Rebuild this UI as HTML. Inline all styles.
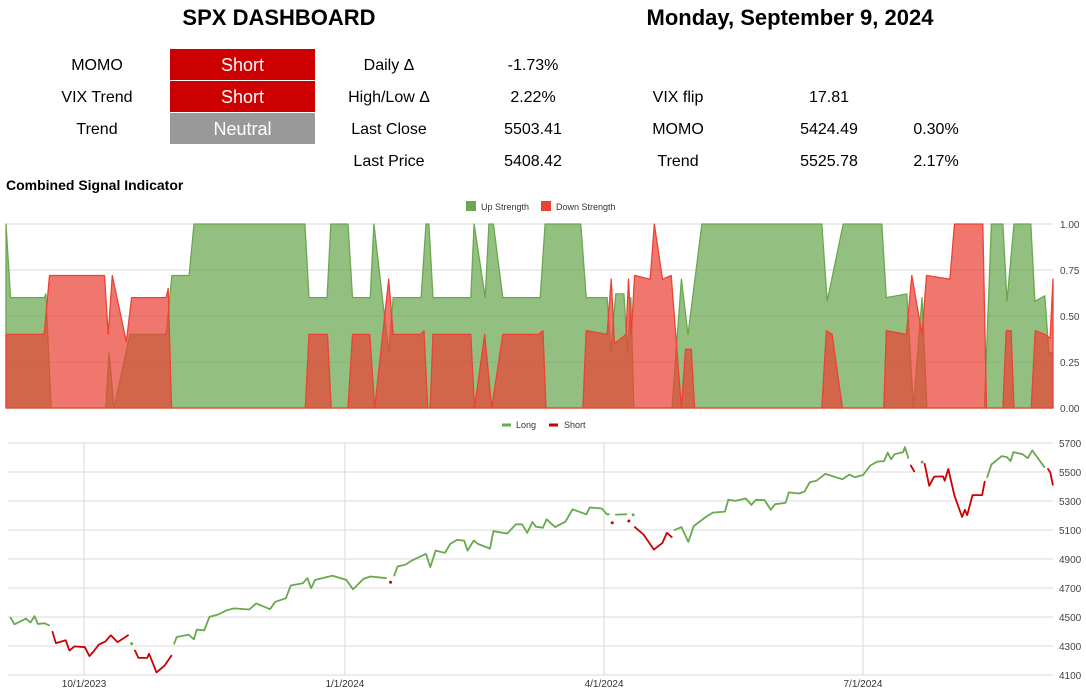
<!DOCTYPE html>
<html><head><meta charset="utf-8">
<style>
body{margin:0;width:1086px;height:693px;background:#fff;font-family:"Liberation Sans",Arial,sans-serif;position:relative;overflow:hidden}
.t{position:absolute;white-space:nowrap;color:#000}
.c{transform:translateX(-50%)}
.h{font-weight:bold;font-size:22px}
.r{font-size:16px}
.box{position:absolute;left:170px;width:145px;height:31px;color:#fff;font-size:18px;text-align:center;line-height:32px}
svg{position:absolute;left:0;top:0}
</style></head><body>
<div class="t h c" style="left:279px;top:5px">SPX DASHBOARD</div>
<div class="t h c" style="left:790px;top:5px">Monday, September 9, 2024</div>

<div class="t r c" style="left:97px;top:57px">MOMO</div>
<div class="t r c" style="left:97px;top:89px">VIX Trend</div>
<div class="t r c" style="left:97px;top:121px">Trend</div>
<div class="box" style="top:49px;background:#cc0000">Short</div>
<div class="box" style="top:81px;background:#cc0000">Short</div>
<div class="box" style="top:113px;background:#999999">Neutral</div>

<div class="t r c" style="left:389px;top:57px">Daily Δ</div>
<div class="t r c" style="left:389px;top:89px">High/Low Δ</div>
<div class="t r c" style="left:389px;top:121px">Last Close</div>
<div class="t r c" style="left:389px;top:153px">Last Price</div>
<div class="t r c" style="left:533px;top:57px">-1.73%</div>
<div class="t r c" style="left:533px;top:89px">2.22%</div>
<div class="t r c" style="left:533px;top:121px">5503.41</div>
<div class="t r c" style="left:533px;top:153px">5408.42</div>

<div class="t r c" style="left:678px;top:89px">VIX flip</div>
<div class="t r c" style="left:678px;top:121px">MOMO</div>
<div class="t r c" style="left:678px;top:153px">Trend</div>
<div class="t r c" style="left:829px;top:89px">17.81</div>
<div class="t r c" style="left:829px;top:121px">5424.49</div>
<div class="t r c" style="left:829px;top:153px">5525.78</div>
<div class="t r c" style="left:936px;top:121px">0.30%</div>
<div class="t r c" style="left:936px;top:153px">2.17%</div>

<div class="t" style="left:6px;top:177px;font-size:14px;font-weight:bold">Combined Signal Indicator</div>

<svg id="chart" width="1086" height="693"></svg>
<script>
// ---- Signal chart data (x = trading-session index 0..255) ----
const upX=[0,1.1,9.3,9.7,11.0,24.3,25.1,26.3,30.2,39.0,40.4,44.6,45.8,72.8,73.8,78.2,79.1,83.3,84.4,88.7,89.6,93.2,94.3,101.1,102.3,103.0,104.0,113.2,114.0,116.7,117.6,118.7,121.0,130.1,131.3,140.0,141.3,146.4,147.3,148.5,150.5,151.4,152.2,152.9,162.2,164.5,166.1,169.5,198.7,200.0,203.9,213.3,214.4,219.4,221.0,223.1,224.3,238.3,240.0,242.8,243.8,245.5,249.6,250.6,253.0,254.0,254.8,255];
const upV=[1,0.6,0.6,0.62,0,0,0.3,0,0.4,0.4,0.72,0.72,1,1,0.6,0.6,1,1,0.6,0.6,1,0.3,0.6,0.6,1,1,0.6,0.6,1,0.6,1,1,0.6,0.6,1,1,0.6,0.6,0.3,0.62,0.62,0.3,0.6,0,0,0.7,0.4,1,1,0.58,1,1,0.6,0.62,0,0.6,0,0,1,1,0.58,1,1,0.58,0.61,0.3,0.3,0];
const dnX=[0,9.3,10.6,24.0,24.9,25.9,29.3,30.6,39.0,39.5,40.3,72.9,73.8,78.3,79.2,83.3,84.4,88.6,89.8,93.2,94.3,101.0,101.8,102.7,103.3,104.0,113.2,114.1,116.6,118.3,121.0,129.7,130.8,131.5,140.5,141.3,146.4,147.4,148.2,151.0,151.6,152.3,153.1,156.9,157.9,159.9,162.0,164.5,165.5,166.9,167.7,198.7,199.8,201.2,203.7,213.8,214.4,219.3,220.6,223.1,224.2,229.9,231.0,237.9,238.8,242.8,243.6,244.8,245.5,249.7,250.7,253.0,254.3,255];
const dnV=[0.4,0.4,0.72,0.72,0.4,0.72,0.36,0.6,0.6,0.65,0,0,0.4,0.4,0,0,0.4,0.4,0,0.7,0.4,0.4,0.42,0,0,0.4,0.4,0,0.4,0,0.4,0.4,0.42,0,0,0.42,0.4,0.7,0.35,0.4,0.7,0.4,0.72,0.7,1,0.7,0.72,0,0.32,0.32,0,0,0.42,0.4,0,0,0.42,0.4,0.72,0.4,0.72,0.7,1,1,0,0,0.42,0.42,0,0,0.42,0.4,0.38,0.7];
const sigTicks=[0,0.25,0.5,0.75,1];
const sigTickLabels=["0.00","0.25","0.50","0.75","1.00"];
// ---- Price chart data (x = calendar days since 2023-09-04) ----
const priceSegs=[
 {s:"long",x:[0.9,2.3,6.4,8.0,9.4,10.6,12.9,14.6],y:[4496,4450,4489,4462,4506,4452,4457,4443]},
 {s:"short",x:[15.8,17.0,20.5,21.8,23.6,27.3,28.9,30.4,32.2,34.6,36.5,38.9,42.6],y:[4397,4320,4339,4269,4297,4292,4230,4262,4309,4332,4374,4327,4374]},
 {s:"long",x:[43.9],y:[4316]},
 {s:"short",x:[45.1,46.3,49.4,50.1,52.7,55.6,58.0],y:[4269,4218,4218,4246,4118,4165,4234]},
 {s:"long",x:[59.0,59.9,64.1,66.0,67.0,69.7,71.5,74.6,77.7,80.2,85.7,88.1,93.0,94.9,98.6,100.4,104.7,106.3,107.6,109.0,115.2,120.1,122.5,126.2,128.7,134.2],y:[4316,4362,4378,4346,4413,4408,4501,4517,4547,4559,4552,4594,4554,4605,4629,4717,4733,4768,4698,4756,4784,4756,4691,4763,4779,4768]},
 {s:"short",x:[135.8],y:[4740]},
 {s:"long",x:[137.1,138.3,141.0,143.5,148.4,149.9,151.8,155.1,157.0,159.4,161.9,163.1,165.3,166.8,171.1,172.3,177.2,180.3,182.5,184.3,186.2,187.4,189.9,191.2,194.2,197.9,200.4,205.3,206.5,210.8,212.6,213.3],y:[4786,4849,4861,4891,4935,4844,4958,4942,5004,5032,5027,4958,5027,5004,4972,5092,5076,5139,5139,5081,5155,5123,5116,5174,5120,5157,5243,5208,5255,5248,5208,5208]},
 {s:"short",x:[214.5],y:[5150]},
 {s:"long",x:[215.8,219.5],y:[5206,5208]},
 {s:"short",x:[220.4],y:[5162]},
 {s:"long",x:[221.9],y:[5204]},
 {s:"short",x:[222.5,225.6,229.3,232.3,233.9,235.6],y:[5120,5069,4965,5011,5081,5051]},
 {s:"long",x:[236.6,239.1,241.5,243.4,247.7,250.2,254.5,255.7,258.2,261.9,263.9,265.5,268.6,270.8,272.3,276.0,277.2,280.9,282.8,284.6,287.0,290.1,296.2,298.7,300.6,303.6,306.1,308.6,311.0,312.3,313.5,314.7,317.8,318.4,319.6],y:[5099,5120,5018,5127,5190,5220,5227,5308,5301,5317,5273,5308,5306,5239,5278,5287,5359,5352,5366,5429,5440,5487,5450,5482,5464,5480,5545,5572,5575,5633,5587,5622,5637,5672,5598]},
 {s:"short",x:[320.5,321.7],y:[5545,5505]},
 {s:"long",x:[324.5],y:[5568]},
 {s:"short",x:[325.4,327.0,328.8,331.9,332.5,333.8,336.0,338.7,339.7,340.5,342.4,345.8,346.7],y:[5556,5405,5468,5470,5440,5521,5336,5190,5239,5202,5341,5341,5433]},
 {s:"long",x:[347.6,349.1,352.8,354.6,355.9,356.9,360.2,362.0,363.6,367.9],y:[5463,5552,5610,5603,5575,5637,5622,5596,5649,5533]},
 {s:"short",x:[369.2,370.0,370.9],y:[5521,5498,5412]}
];
const priceTicks=[4100,4300,4500,4700,4900,5100,5300,5500,5700];
const dateTicks=[27,119.6,211.6,303.5];
const dateLabels=["10/1/2023","1/1/2024","4/1/2024","7/1/2024"];

const NS="http://www.w3.org/2000/svg";
const svg=document.getElementById('chart');
function mk(tag,at,parent){const e=document.createElementNS(NS,tag);for(const k in at)e.setAttribute(k,at[k]);(parent||svg).appendChild(e);return e;}

const sx=t=>6+t*(1053-6)/255;
const sy=v=>408-v*184;
sigTicks.forEach((v,i)=>{
 const g=mk('line',{x1:6,x2:1053,y1:sy(v),y2:sy(v),stroke:'#d9d9d9','stroke-width':1});
 
 
 const t=mk('text',{x:1060,y:sy(v)+4,'font-size':10,fill:'#444','font-family':'Liberation Sans, sans-serif'});
 t.textContent=sigTickLabels[i];
 
 
});
function area(xs,vs,fill,stroke,name){
 let d='M'+sx(xs[0])+','+sy(0);
 xs.forEach((x,i)=>{d+=' L'+sx(x).toFixed(1)+','+sy(vs[i]).toFixed(1);});
 d+=' L'+sx(xs[xs.length-1])+','+sy(0)+' Z';
 const p=mk('path',{d:d,fill:fill,'fill-opacity':0.72,stroke:stroke,'stroke-width':1.3,'stroke-linejoin':'round'});
 
 
}
area(upX,upV,'#6aa84f','#6aa84f','up-strength-area');
area(dnX,dnV,'#ea4335','#ea4335','down-strength-area');

let lg=mk('rect',{x:466,y:201,width:10,height:10,fill:'#6aa84f'});


let lt=mk('text',{x:481,y:210,'font-size':9,fill:'#333'});lt.textContent='Up Strength';


lg=mk('rect',{x:541,y:201,width:10,height:10,fill:'#ea4335'});


lt=mk('text',{x:556,y:210,'font-size':9,fill:'#333'});lt.textContent='Down Strength';



const px=d=>8+d*2.817;
const py=v=>675-(v-4100)*(232/1600);
priceTicks.forEach(v=>{
 const g=mk('line',{x1:8,x2:1053,y1:py(v),y2:py(v),stroke:'#d9d9d9','stroke-width':1});
 
 
 const t=mk('text',{x:1059,y:py(v)+4,'font-size':10,fill:'#444'});
 t.textContent=String(v);
 
 
});
dateTicks.forEach((d,i)=>{
 const g=mk('line',{x1:px(d),x2:px(d),y1:443,y2:675,stroke:'#d9d9d9','stroke-width':1});
 
 
 const t=mk('text',{x:px(d),y:687,'font-size':10,fill:'#333','text-anchor':'middle'});
 t.textContent=dateLabels[i];
 
 
});
priceSegs.forEach(sg=>{
 const col=sg.s==='long'?'#6aa84f':'#cc0000';
 if(sg.x.length===1){
  const c=mk('circle',{cx:px(sg.x[0]),cy:py(sg.y[0]),r:1.5,fill:col});
  
  
  return;
 }
 const pts=sg.x.map((x,i)=>px(x).toFixed(1)+','+py(sg.y[i]).toFixed(1)).join(' ');
 const l=mk('polyline',{points:pts,fill:'none',stroke:col,'stroke-width':1.8,'stroke-linejoin':'round','stroke-linecap':'round'});
 
 
});
lg=mk('line',{x1:502,x2:511,y1:425,y2:425,stroke:'#6aa84f','stroke-width':3});


lt=mk('text',{x:516,y:428,'font-size':9,fill:'#333'});lt.textContent='Long';


lg=mk('line',{x1:549,x2:558,y1:425,y2:425,stroke:'#cc0000','stroke-width':3});


lt=mk('text',{x:564,y:428,'font-size':9,fill:'#333'});lt.textContent='Short';


</script>
</body></html>
